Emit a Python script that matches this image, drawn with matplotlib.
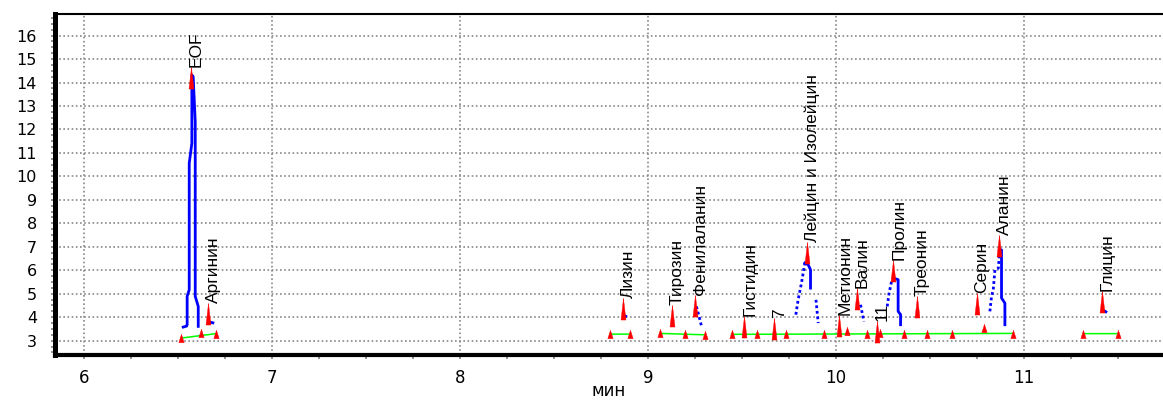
import numpy as np
import matplotlib
matplotlib.use('Agg')
import matplotlib.pyplot as plt
from matplotlib.ticker import MultipleLocator

nan = np.nan

# ── peaks: apex position and name ─────────────────────────────────────────
peak_names = ['EOF', 'Аргинин', 'Лизин', 'Тирозин', 'Фенилаланин', 'Гистидин', '7',
              'Лейцин и Изолейцин', 'Метионин', 'Валин', '11', 'Пролин', 'Треонин',
              'Серин', 'Аланин', 'Глицин']
peak_x = [6.569, 6.661, 8.865, 9.126, 9.250, 9.512, 9.672, 9.844, 10.018, 10.110,
          10.216, 10.305, 10.429, 10.748, 10.869, 11.413]
peak_y = [14.66, 4.62, 4.83, 4.53, 4.96, 4.04, 3.98, 7.22, 4.10, 5.26,
          3.82, 6.45, 4.89, 5.03, 7.51, 5.10]

# ── peak start/end markers on the baseline ────────────────────────────────
base_x = [6.516, 6.622, 6.702, 8.798, 8.904, 9.064, 9.197, 9.303, 9.445, 9.578, 9.737,
          9.938, 10.057, 10.163, 10.234, 10.363, 10.482, 10.615, 10.789, 10.944,
          11.316, 11.502]
base_y = [3.11, 3.33, 3.30, 3.28, 3.28, 3.31, 3.30, 3.25, 3.28, 3.28, 3.28,
          3.29, 3.40, 3.30, 3.33, 3.30, 3.30, 3.30, 3.55, 3.30,
          3.30, 3.30]

# ── green baselines ───────────────────────────────────────────────────────
baseline_x = [6.516, 6.702, nan, 8.798, 8.904, nan, 9.064, 9.303, nan, 9.445, 10.944, nan, 11.316, 11.502]
baseline_y = [3.11, 3.30, nan, 3.28, 3.28, nan, 3.31, 3.25, nan, 3.27, 3.31, nan, 3.30, 3.30]

# ── signal, solid parts ───────────────────────────────────────────────────
sig_x = [6.528, 6.546, 6.549, 6.549, 6.560, 6.560, 6.574, 6.574, 6.581, 6.592, 6.592, 6.608, 6.608, nan,
         6.676, 6.686, nan,
         8.872, 8.882, nan,
         9.835, 9.853, 9.865, 9.865, nan,
         10.305, 10.331, 10.331, 10.344, 10.344, nan,
         10.869, 10.881, 10.881, 10.899, 10.899, nan,
         11.428, 11.436]
sig_y = [3.58, 3.62, 3.68, 4.89, 5.17, 10.56, 11.41, 14.32, 14.25, 12.33, 4.89, 4.46, 3.61, nan,
         3.78, 3.76, nan,
         4.08, 4.04, nan,
         6.31, 6.23, 6.02, 5.24, nan,
         5.67, 5.60, 4.25, 4.11, 3.68, nan,
         6.87, 6.87, 4.82, 4.60, 3.68, nan,
         4.27, 4.23]

# ── signal, dotted parts ──────────────────────────────────────────────────
dot_x = [9.258, 9.270, 9.285, nan,
         9.787, 9.799, 9.817, 9.835, nan,
         9.894, 9.906, nan,
         10.131, 10.149, nan,
         10.273, 10.283, 10.296, 10.305, nan,
         10.819, 10.828, 10.837, 10.846, 10.864, 10.869]
dot_y = [4.46, 4.10, 3.62, nan,
         4.11, 4.74, 5.46, 6.31, nan,
         4.74, 3.75, nan,
         4.53, 3.82, nan,
         4.46, 5.03, 5.52, 5.67, nan,
         4.25, 4.89, 5.17, 6.02, 6.09, 6.59]

apex_marker = [(0, 0), (-0.115, -1), (0.115, -1), (0, 0)]
base_marker = [(0, 1), (-0.64, -1), (0.64, -1), (0, 1)]

fig = plt.figure(figsize=(11.63, 4.03), dpi=100)
ax = fig.add_axes([55 / 1163, 1 - 355 / 403, 1 - 55 / 1163, (355 - 14) / 403])

ax.plot(baseline_x, baseline_y, color='#00ff00', lw=1.1, zorder=3)
ax.plot(sig_x, sig_y, color='#0000ff', lw=2.0, zorder=4)
ax.plot(dot_x, dot_y, color='#0000ff', lw=2.0, ls=(0, (1, 1)), zorder=4)
ax.plot(base_x, base_y, ls='none', marker=base_marker, ms=6, color='red', mew=0.3, zorder=5)
ax.plot(peak_x, peak_y, ls='none', marker=apex_marker, ms=31, color='red', mew=0.3, zorder=5)

for name, px, py in zip(peak_names, peak_x, peak_y):
    ax.annotate(name, (px, py), xytext=(4, 0), textcoords='offset points',
                rotation=90, ha='center', va='bottom', fontsize=12.5,
                family='Liberation Sans', zorder=6)

ax.set_xlim(5.846, 11.74)
ax.set_ylim(2.39, 16.92)
ax.xaxis.set_major_locator(MultipleLocator(1))
ax.xaxis.set_minor_locator(MultipleLocator(0.25))
ax.yaxis.set_minor_locator(MultipleLocator(0.25))
ax.set_yticks(range(3, 17))
ax.grid(True, which='major', color='#888888', ls=(0, (1, 1.5)), lw=1.2)

for s, w in [('left', 3.6), ('bottom', 3.0), ('top', 1.5)]:
    ax.spines[s].set_linewidth(w)
    ax.spines[s].set_color('black')
ax.spines['right'].set_visible(False)

ax.tick_params(which='both', direction='out', color='#808080', width=1.2, length=3)
ax.tick_params(axis='x', labelsize=12, pad=7)
ax.tick_params(axis='y', labelsize=11.5, pad=10)
ax.tick_params(right=False, top=False)
ax.set_xlabel('мин', fontsize=12)
ax.xaxis.set_label_coords(0.5, -(382 - 355) / 341)

fig.savefig('out.png', dpi=100)
